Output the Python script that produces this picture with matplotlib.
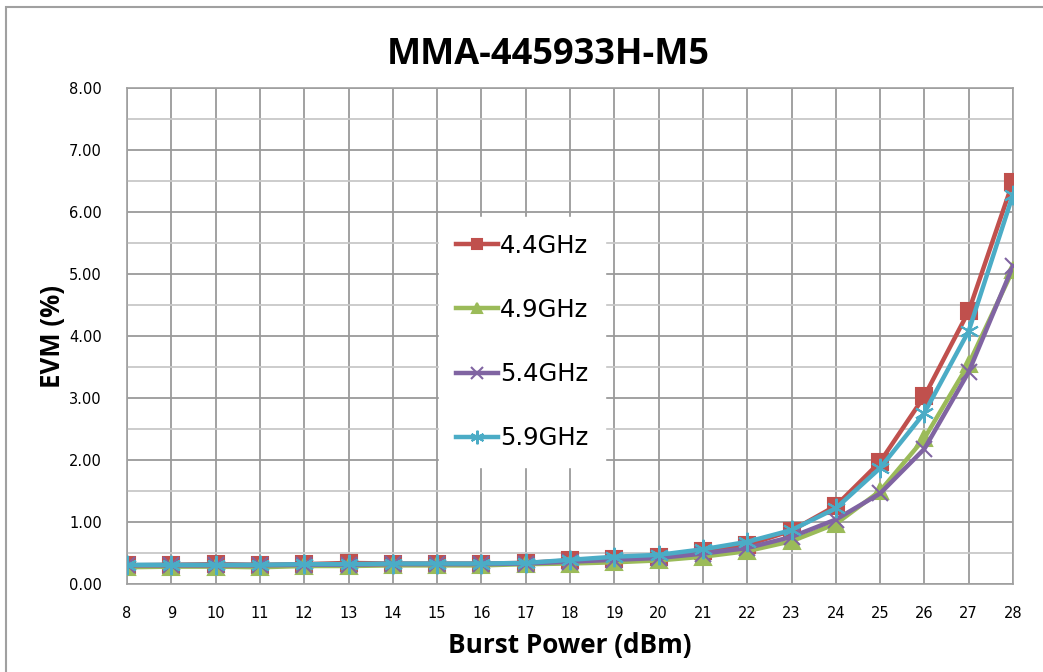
import matplotlib
matplotlib.use("Agg")
import matplotlib.pyplot as plt
from matplotlib.patches import Rectangle
from matplotlib.ticker import MultipleLocator, FormatStrFormatter

power = list(range(8, 29))
evm_44 = [0.30, 0.31, 0.32, 0.31, 0.32, 0.34, 0.33, 0.33, 0.33, 0.34, 0.38, 0.41, 0.43, 0.54, 0.63, 0.86, 1.26, 1.97, 3.03, 4.40, 6.49]
evm_49 = [0.27, 0.28, 0.28, 0.27, 0.29, 0.29, 0.30, 0.30, 0.30, 0.32, 0.33, 0.35, 0.38, 0.44, 0.53, 0.69, 0.97, 1.50, 2.35, 3.55, 5.07]
evm_54 = [0.30, 0.30, 0.30, 0.30, 0.31, 0.31, 0.32, 0.32, 0.32, 0.33, 0.36, 0.39, 0.42, 0.49, 0.58, 0.76, 1.04, 1.46, 2.18, 3.42, 5.13]
evm_59 = [0.31, 0.31, 0.31, 0.31, 0.32, 0.32, 0.33, 0.33, 0.33, 0.34, 0.39, 0.44, 0.47, 0.56, 0.68, 0.87, 1.22, 1.87, 2.76, 4.08, 6.28]
labels = ["4.4GHz", "4.9GHz", "5.4GHz", "5.9GHz"]

colors = ["#C0504D", "#9BBB59", "#8064A2", "#4BACC6"]
markers = ["s", "^", "x", (6, 2, 0)]
msizes = [11, 11, 12, 14]

fig = plt.figure(figsize=(10.43, 6.72), dpi=100)
ax = fig.add_axes([127/1043, 1-584/672, (1013-127)/1043, (584-88)/672])

series = [evm_44, evm_49, evm_54, evm_59]
for vals, lab, c, m, ms in zip(series, labels, colors, markers, msizes):
    ax.plot(power, vals, color=c, lw=3.2, marker=m, markersize=ms,
            markeredgecolor=c, markeredgewidth=1.5, label=lab, zorder=3)

ax.set_xlim(8, 28)
ax.set_ylim(0, 8)
ax.xaxis.set_major_locator(MultipleLocator(1))
ax.yaxis.set_major_locator(MultipleLocator(1))
ax.yaxis.set_minor_locator(MultipleLocator(0.5))
ax.yaxis.set_major_formatter(FormatStrFormatter("%.2f"))
ax.grid(which="major", axis="both", color="#9a9a9a", lw=1.3)
ax.grid(which="minor", axis="y", color="#c8c8c8", lw=1.3)
ax.set_axisbelow(True)
for s in ax.spines.values():
    s.set_color("#a0a0a0")
    s.set_linewidth(1.2)
ax.tick_params(which="both", length=0)
ax.tick_params(axis="x", pad=16, labelsize=10.5)
ax.tick_params(axis="y", pad=18, labelsize=10.5)

ax.set_xlabel("Burst Power (dBm)", fontsize=18.8, fontweight="bold",
              family="Open Sans", labelpad=8)
ax.set_ylabel("EVM (%)", fontsize=18.5, fontweight="bold",
              family="Open Sans", labelpad=2)
fig.text(548/1043, 1-55/672, "MMA-445933H-M5", fontsize=26, fontweight="bold",
         family="Open Sans", ha="center", va="center")

leg = ax.legend(loc="center", bbox_to_anchor=(522/1043, 1-342/672),
                bbox_transform=fig.transFigure, frameon=True, fancybox=False,
                edgecolor="white", facecolor="white", framealpha=1,
                prop={"family": "DejaVu Sans", "size": 17.5},
                labelspacing=1.65, handlelength=1.75, handletextpad=0.08,
                borderpad=0.7, borderaxespad=0, markerscale=0.7)

fig.add_artist(Rectangle((6/1043, -0.1), 1.2, 1 - 7/672 + 0.1,
                         transform=fig.transFigure, fill=False,
                         edgecolor="#a0a0a0", lw=1.5))

fig.savefig("out.png", dpi=100)
